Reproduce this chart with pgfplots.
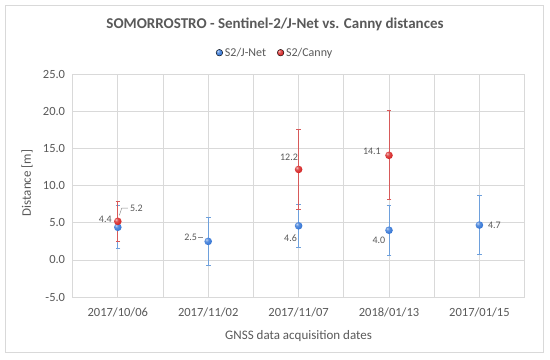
\documentclass[border=0pt]{standalone}
\usepackage{fontspec}
\setmainfont{Carlito}
\usepackage{pgfplots}
\pgfplotsset{compat=1.18}
\definecolor{txt}{RGB}{89,89,89}
\definecolor{gridc}{RGB}{217,217,217}
\definecolor{bball}{RGB}{55,120,215}
\definecolor{rball}{RGB}{215,40,40}
\definecolor{berr}{RGB}{110,160,220}
\definecolor{rerr}{RGB}{215,90,90}
\pgfdeclareradialshading{bshade}{\pgfpoint{-12bp}{12bp}}{color(0bp)=(bball!25!white); color(10bp)=(bball!80!white); color(28bp)=(bball); color(50bp)=(bball!70!black); color(80bp)=(bball!70!black)}
\pgfdeclareradialshading{rshade}{\pgfpoint{-12bp}{12bp}}{color(0bp)=(rball!25!white); color(10bp)=(rball!80!white); color(28bp)=(rball); color(50bp)=(rball!70!black); color(80bp)=(rball!70!black)}
\pgfdeclareplotmark{bballmk}{\pgfpathcircle{\pgfpointorigin}{\pgfplotmarksize}\pgfshadepath{bshade}{0}\pgfusepath{discard}}
\pgfdeclareplotmark{rballmk}{\pgfpathcircle{\pgfpointorigin}{\pgfplotmarksize}\pgfshadepath{rshade}{0}\pgfusepath{discard}}
\begin{document}
\begin{tikzpicture}[x=1bp,y=1bp]
\useasboundingbox (0,0) rectangle (550,359);
\draw[gridc, line width=0.8bp, fill=white] (5,7) rectangle (543,354);
\begin{axis}[
  at={(72.6bp,62bp)}, anchor=south west,
  scale only axis, width=452bp, height=222.5bp,
  xmin=-0.5, xmax=4.5, ymin=-5, ymax=25,
  xtick={0,1,2,3,4},
  xticklabels={2017/10/06,2017/11/02,2017/11/07,2018/01/13,2017/01/15},
  minor xtick={-0.5,0.5,1.5,2.5,3.5,4.5},
  ytick={-5,0,5,10,15,20,25},
  xmajorgrids, xminorgrids, ymajorgrids,
  grid style={gridc, line width=0.7bp},
  minor grid style={gridc, line width=0.7bp},
  axis line style={gridc, line width=0.7bp},
  major tick length=0pt, minor tick length=0pt,
  tick style={draw=none},
  ticklabel style={font=\fontsize{12.5bp}{15bp}\selectfont, text=txt},
  xticklabel style={yshift=-7bp},
  yticklabel style={xshift=-4bp},
  /pgf/number format/assume math mode=true,
  yticklabel={\pgfmathprintnumber[fixed, fixed zerofill, precision=1]{\tick}},
  clip=false,
  legend style={at={(axis description cs:0.448,1.098)}, anchor=center, draw=none, fill=none,
     legend columns=2, font=\fontsize{12bp}{14bp}\selectfont, text=txt,
     /tikz/every even column/.append style={column sep=9bp}},
]
% S2/J-Net
\addplot[forget plot, only marks, mark=bballmk, mark size=3.8bp,
  error bars/.cd, y dir=both, y explicit,
  error bar style={berr, line width=0.75bp},
  error mark options={rotate=90, berr, mark size=2.3bp, line width=0.75bp}]
  coordinates {
  (0,4.4) +- (0,2.9)
  (1,2.5) +- (0,3.3)
  (2,4.6) +- (0,2.9)
  (3,4.0) +- (0,3.4)
  (4,4.7) +- (0,4.0)
  };
% S2/Canny
\addplot[forget plot, only marks, mark=rballmk, mark size=3.8bp,
  error bars/.cd, y dir=both, y explicit,
  error bar style={rerr, line width=0.75bp},
  error mark options={rotate=90, rerr, mark size=2.3bp, line width=0.75bp}]
  coordinates {
  (0,5.2) +- (0,2.65)
  (2,12.2) +- (0,5.4)
  (3,14.1) +- (0,6.0)
  };
\addlegendimage{legend image code/.code={\shade[shading=bshade] (0.3em,0) circle (3.3bp);}}
\addlegendentry{S2/J-Net}
\addlegendimage{legend image code/.code={\shade[shading=rshade] (0.3em,0) circle (3.3bp);}}
\addlegendentry{S2/Canny}
% data labels
\begin{scope}[every node/.style={font=\fontsize{10bp}{12bp}\selectfont, text=txt, inner sep=0pt}]
\node[anchor=east] at ([xshift=-6bp]axis cs:0,5.5) {4.4};
\node[anchor=west] at ([xshift=12bp]axis cs:0,7.0) {5.2};
\draw[txt!70, line width=0.5bp] ([xshift=1.5bp]axis cs:0,6.0) -- ([xshift=4bp]axis cs:0,7.0) -- ([xshift=10bp]axis cs:0,7.0);
\node[anchor=east] at ([xshift=-11bp]axis cs:1,3.0) {2.5};
\draw[txt!70, line width=0.5bp] ([xshift=-10bp]axis cs:1,3.0) -- ([xshift=-5bp]axis cs:1,3.0);
\node[anchor=east] at ([xshift=-1.5bp]axis cs:2,3.0) {4.6};
\node[anchor=east] at ([xshift=-0.5bp]axis cs:2,13.8) {12.2};
\node[anchor=east] at ([xshift=-8bp]axis cs:3,14.6) {14.1};
\node[anchor=east] at ([xshift=-3.5bp]axis cs:3,2.7) {4.0};
\node[anchor=west] at ([xshift=8.5bp]axis cs:4,4.6) {4.7};
\end{scope}
\end{axis}
\node[font=\fontsize{15bp}{18bp}\selectfont\bfseries, text=txt] at (275,334.5) {SOMORROSTRO - Sentinel-2/J-Net vs. Canny distances};
\node[font=\fontsize{13bp}{15bp}\selectfont, text=txt, rotate=90] at (27,176) {Distance [m]};
\node[font=\fontsize{13bp}{15bp}\selectfont, text=txt] at (298.6,23) {GNSS data acquisition dates};
\end{tikzpicture}
\end{document}
